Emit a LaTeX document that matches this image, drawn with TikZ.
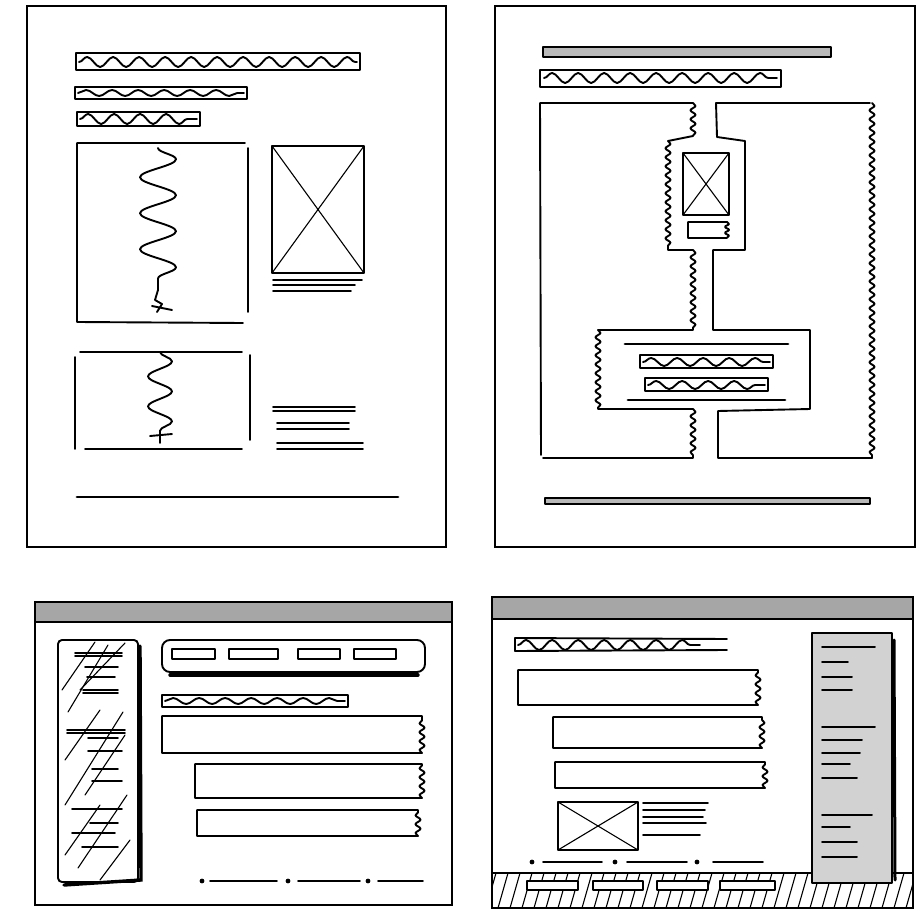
\documentclass[tikz,border=0pt]{standalone}
\usetikzlibrary{decorations.pathmorphing}

\begin{document}
\begin{tikzpicture}[x=1pt, y=-1pt,
    pageframe/.style={line width=2pt},
    ink/.style={line width=1.9pt, line cap=round, line join=round},
    fine/.style={line width=1.1pt, line cap=round},
    heavy/.style={line width=2.8pt, line cap=round},
    ripple/.style={decoration={snake, amplitude=2.5pt, segment length=9pt}},
    scrib/.style={decorate, decoration={snake, amplitude=#1, segment length=26pt}},
    scrib/.default=4pt,
    greybar/.style={ink, fill=gray!55}]
    \useasboundingbox (0,0) rectangle (918,912);

    % Сторінка зліва вгорі
    \draw[pageframe] (27,6) rectangle (446,547);
    \draw[ink] (76,53) rectangle (360,70);
    \draw[ink, scrib=5pt] (79,62) -- (357,62);
    \draw[ink] (75,87) rectangle (247,99);
    \draw[ink, scrib=3pt] (78,93) -- (244,93);
    \draw[ink] (77,112) rectangle (200,126);
    \draw[ink, scrib=5pt] (80,119) -- (197,119);

    \draw[ink] (245,143) -- (77,143) -- (77,322) -- (243,323);
    \draw[ink] (248,148) -- (248,312);
    \draw[ink, decorate, decoration={snake, amplitude=18pt, segment length=36pt}] (158,148) -- (158,290);
    \draw[ink] (158,290) -- (155,300) -- (162,304) -- (157,312) (152,306) -- (172,310);

    \draw[ink] (272,146) rectangle (364,273);
    \draw[fine] (272,146) -- (364,273) (364,146) -- (272,273);
    \draw[ink] (273,280) -- (362,280) (273,285) -- (355,285) (273,291) -- (351,291);

    \draw[ink] (80,352) -- (242,352) (250,355) -- (250,440) (75,357) -- (75,449) (85,449) -- (242,449);
    \draw[ink, decorate, decoration={snake, amplitude=12pt, segment length=30pt}] (160,352) -- (160,432);
    \draw[ink] (160,432) -- (160,443) (150,436) -- (172,434);

    \foreach \ya/\xa/\xb in {407/273/355, 411/273/355, 423/277/349, 429/277/349, 443/277/363, 449/277/363}
        \draw[ink] (\xa,\ya) -- (\xb,\ya);

    \draw[heavy] (77,497) -- (398,497);

    % Сторінка справа вгорі
    \draw[pageframe] (495,6) rectangle (915,547);
    \draw[greybar] (543,47) rectangle (831,57);
    \draw[ink] (540,70) rectangle (781,87);
    \draw[ink, scrib=5pt] (544,78) -- (777,78);

    \draw[ink, ripple] (541,455) -- (540,103) -- (693,103)
        decorate{-- (693,136)} -- (668,141)
        decorate{-- (668,250)} -- (693,250)
        decorate{-- (693,330)} -- (598,330)
        decorate{-- (598,409)} -- (693,409)
        decorate{-- (693,458)} -- (543,458);
    \draw[ink] (870,103) -- (716,103) -- (717,137) -- (745,141) -- (745,250) -- (713,250)
        -- (713,330) -- (810,330) -- (810,409) -- (718,411) -- (718,458) -- (872,458);
    \draw[ink, ripple, decorate] (872,103) -- (872,458);

    \draw[ink] (683,153) rectangle (729,215);
    \draw[fine] (683,153) -- (729,215) (729,153) -- (683,215);
    \draw[ink, decoration={snake, amplitude=2pt, segment length=6pt}] (727,238) -- (688,238) -- (688,222) -- (727,222) decorate{-- (727,238)};

    \draw[heavy] (625,344) -- (788,344);
    \draw[ink] (640,355) rectangle (773,368);
    \draw[ink, scrib=4pt] (643,362) -- (770,362);
    \draw[ink] (645,378) rectangle (768,391);
    \draw[ink, scrib=4pt] (648,385) -- (765,385);
    \draw[heavy] (628,400) -- (785,400);

    \draw[greybar] (545,498) rectangle (870,504);

    % Вікно зліва внизу
    \draw[pageframe] (35,602) rectangle (452,905);
    \draw[pageframe, fill=gray!70] (35,602) rectangle (452,622);

    \draw[ink, rounded corners=4pt] (58,640) rectangle (138,882);
    \draw[line width=3.4pt, line cap=round] (140,646) -- (141,880) -- (64,885);
    \begin{scope}
        \clip (58,640) rectangle (138,882);
        \foreach \xa/\ya/\xb/\yb in {62/690/95/642, 68/712/108/645, 80/690/125/643,
                                    65/760/100/710, 65/805/123/712, 85/795/125/735,
                                    78/868/127/795, 100/880/130/840, 65/855/100/805}
            \draw[fine] (\xa,\ya) -- (\xb,\yb);
    \end{scope}
    \foreach \ya/\xa/\xb in {653/75/122, 656/75/122, 667/85/118, 677/87/115, 690/83/118, 693/83/118,
                             730/67/125, 733/67/125, 738/88/118, 751/88/122, 769/92/118, 781/92/122,
                             809/72/122, 823/90/118, 833/72/115, 847/82/118}
        \draw[ink] (\xa,\ya) -- (\xb,\ya);

    \draw[ink, rounded corners=8pt] (162,640) rectangle (425,672);
    \draw[line width=3.4pt, line cap=round] (170,675) -- (418,675);
    \foreach \xa/\xb in {172/215, 229/278, 298/340, 354/396}
        \draw[ink] (\xa,649) rectangle (\xb,659);

    \draw[ink] (162,695) rectangle (348,707);
    \draw[ink, scrib=3pt] (165,701) -- (345,701);

    \draw[ink, ripple] (422,716) -- (162,716) -- (162,753) -- (422,753) decorate{-- (422,716)};
    \draw[ink, ripple] (422,764) -- (195,764) -- (195,798) -- (422,798) decorate{-- (422,764)};
    \draw[ink, ripple] (418,810) -- (197,810) -- (197,836) -- (418,836) decorate{-- (418,810)};

    \draw[ink] (210,881) -- (277,881) (298,881) -- (360,881) (378,881) -- (423,881);
    \fill (202,881) circle (2.4pt) (288,881) circle (2.4pt) (368,881) circle (2.4pt);

    % Вікно справа внизу
    \draw[pageframe] (492,597) rectangle (913,908);
    \draw[pageframe, fill=gray!70] (492,597) rectangle (913,619);

    \begin{scope}
        \clip (492,873) rectangle (913,908);
        \foreach \x in {486,498,...,918}
            \draw[fine] (\x,908) -- ({\x+10},873);
    \end{scope}
    \draw[ink] (492,873) -- (913,873);
    \foreach \xa/\xb in {527/578, 593/643, 657/708, 720/775}
        \draw[ink, fill=white] (\xa,881) rectangle (\xb,890);

    \draw[ink, fill=gray!35] (812,633) rectangle (892,883);
    \draw[line width=3pt, line cap=round] (894,640) -- (895,880);
    \foreach \ya/\xb in {647/875, 662/848, 677/852, 690/852, 727/875, 740/862, 753/860,
                         764/850, 778/857, 815/872, 827/850, 842/857, 857/857}
        \draw[ink] (822,\ya) -- (\xb,\ya);

    \draw[ink] (727,639) -- (515,638) -- (515,651) -- (727,650);
    \draw[ink, scrib=5pt] (518,645) -- (700,645);

    \draw[ink, ripple] (758,670) -- (518,670) -- (518,705) -- (758,705) decorate{-- (758,670)};
    \draw[ink, ripple] (762,717) -- (553,717) -- (553,748) -- (762,748) decorate{-- (762,717)};
    \draw[ink, ripple] (765,762) -- (555,762) -- (555,788) -- (765,788) decorate{-- (765,762)};

    \draw[ink] (558,802) rectangle (638,850);
    \draw[fine] (558,802) -- (638,850) (638,802) -- (558,850);
    \foreach \ya/\xb in {803/708, 810/705, 817/703, 823/706, 835/700}
        \draw[ink] (643,\ya) -- (\xb,\ya);

    \draw[ink] (543,862) -- (602,862) (627,862) -- (687,862) (713,862) -- (763,862);
    \fill (532,862) circle (2.4pt) (615,862) circle (2.4pt) (697,862) circle (2.4pt);
\end{tikzpicture}
\end{document}
